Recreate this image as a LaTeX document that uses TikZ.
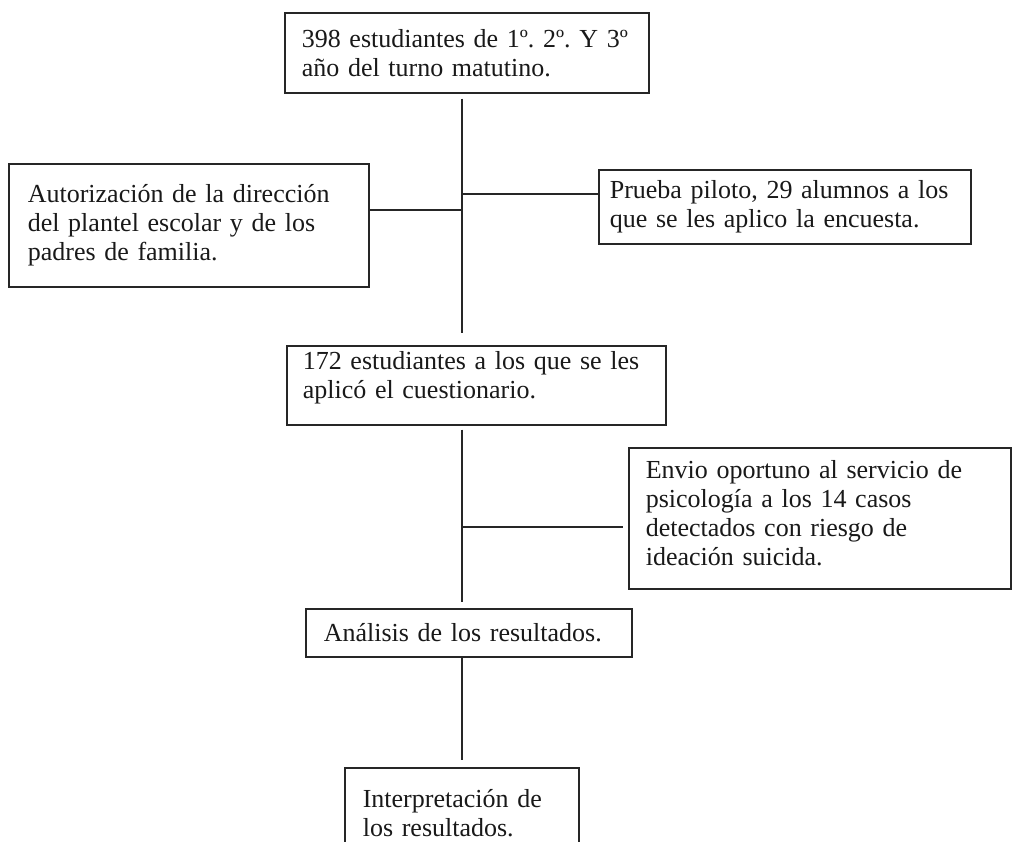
\documentclass[tikz,border=0pt]{standalone}
\usepackage{fontspec}
\setmainfont{Liberation Serif}
\frenchspacing
\newcommand{\raisetext}[1]{\par\vspace{#1}\hrule height 0pt}
\begin{document}
\begin{tikzpicture}[x=1pt,y=-1pt,
  box/.style={draw=black!85, line width=1.6pt, anchor=north west, align=left,
    inner xsep=0pt, inner ysep=0pt, font=\fontsize{26}{29}\selectfont, text=black!90},
  link/.style={draw=black!85, line width=1.5pt}]
\useasboundingbox[fill=white] (0,0) rectangle (1013,842);

\node[box, minimum width=364pt, minimum height=80pt, text width=330pt] (A) at (284,12)
  {398 estudiantes de 1º. 2º. Y 3º\\año del turno matutino.};
\node[box, minimum width=360pt, minimum height=123pt, text width=322pt] (B) at (8,163)
  {Autorización de la dirección\\del plantel escolar y de los\\padres de familia.};
\node[box, minimum width=372pt, minimum height=74pt, text width=350pt] (P) at (598,169)
  {\mbox{Prueba piloto, 29 alumnos a los}\\\mbox{que se les aplico la encuesta.}};
\node[box, minimum width=379pt, minimum height=79pt, text width=347pt] (C) at (286,345)
  {172 estudiantes a los que se les\\aplicó el cuestionario.\raisetext{16pt}};
\node[box, minimum width=382pt, minimum height=141pt, text width=348pt] (D) at (628,447)
  {Envio oportuno al servicio de\\psicología a los 14 casos\\detectados con riesgo de\\ideación suicida.\raisetext{10pt}};
\node[box, minimum width=326pt, minimum height=48pt, text width=290pt] (E) at (305,608)
  {Análisis de los resultados.};
\node[box, minimum width=234pt, minimum height=90pt, text width=198pt] (F) at (344,767)
  {Interpretación de\\los resultados.};

\coordinate (sp) at (462,0);
\coordinate (jL) at (462,210);
\coordinate (jR) at (462,194);
\coordinate (jD) at (462,527);

\draw[link, shorten <=5pt, shorten >=12pt] (A.south -| sp) -- (C.north -| sp);
\draw[link] (jL -| B.east) -- (jL);
\draw[link] (jR) -- (jR -| P.west);
\draw[link, shorten <=4pt, shorten >=6pt] (C.south -| sp) -- (E.north -| sp);
\draw[link, shorten >=5pt] (jD) -- (jD -| D.west);
\draw[link, shorten >=7pt] (E.south -| sp) -- (F.north -| sp);
\end{tikzpicture}
\end{document}
